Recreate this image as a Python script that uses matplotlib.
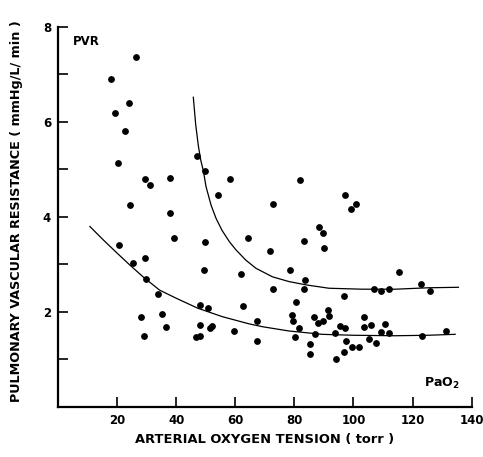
import matplotlib.pyplot as plt
from matplotlib.ticker import MultipleLocator

# scatter points: arterial oxygen tension (torr) vs PVR
pao2 = [26.4, 18.0, 24.1, 19.4, 22.7, 20.4, 29.3, 31.1, 37.9, 24.5,
        37.9, 47.0, 39.4, 20.8, 25.3, 29.6, 29.7, 33.7, 28.0, 35.2,
        36.7, 29.0, 46.7, 48.2, 49.8, 49.4, 47.9, 50.9, 48.2, 51.3,
        52.1, 59.4, 62.0, 62.7, 64.3, 49.7, 58.3, 81.9, 54.3, 72.9,
        88.3, 89.7, 89.9, 83.2, 71.8, 97.2, 100.8, 99.3, 78.5, 83.6,
        83.1, 72.8, 80.6, 79.2, 79.5, 86.6, 67.4, 88.1, 89.7, 91.3,
        91.6, 81.7, 80.2, 87.1, 67.2, 85.4, 85.4, 96.8, 107.1, 109.4,
        111.9, 115.3, 122.7, 125.9, 95.4, 97.1, 93.9, 103.5, 103.4, 105.9,
        110.5, 109.4, 112.0, 97.6, 99.5, 101.9, 105.2, 107.5, 123.2, 131.4,
        96.7, 94.0]
pvr = [7.37, 6.90, 6.39, 6.18, 5.80, 5.13, 4.79, 4.67, 4.83, 4.25,
       4.09, 5.29, 3.55, 3.40, 3.04, 3.14, 2.69, 2.37, 1.90, 1.95,
       1.68, 1.50, 1.47, 1.49, 3.47, 2.88, 2.15, 2.08, 1.73, 1.66,
       1.70, 1.59, 2.81, 2.12, 3.56, 4.97, 4.81, 4.78, 4.46, 4.27,
       3.78, 3.66, 3.35, 3.49, 3.29, 4.46, 4.27, 4.17, 2.88, 2.67,
       2.48, 2.48, 2.20, 1.93, 1.80, 1.90, 1.81, 1.76, 1.82, 2.04,
       1.92, 1.66, 1.48, 1.53, 1.38, 1.32, 1.11, 2.33, 2.48, 2.44,
       2.48, 2.84, 2.58, 2.45, 1.71, 1.66, 1.56, 1.89, 1.68, 1.72,
       1.75, 1.57, 1.56, 1.39, 1.27, 1.27, 1.43, 1.35, 1.50, 1.60,
       1.15, 1.01]

# hand-drawn curves
lower_x = [10.8, 15.3, 20.0, 24.3, 28.8, 34.4, 40.0, 47.3, 55.7, 64.7, 69.2, 78.2, 89.4, 100.0, 114.0, 125.0, 134.4]
lower_y = [3.80, 3.52, 3.24, 2.99, 2.74, 2.46, 2.29, 2.08, 1.90, 1.75, 1.69, 1.60, 1.53, 1.51, 1.50, 1.51, 1.53]
upper_x = [45.8, 46.6, 47.5, 48.3, 49.2, 50.1, 51.8, 53.5, 55.5, 58.0, 60.2, 63.6, 67.0, 72.6, 78.2, 84.0, 91.7, 102.9, 114.2, 125.4, 135.5]
upper_y = [6.52, 5.95, 5.50, 5.20, 4.97, 4.64, 4.25, 3.97, 3.72, 3.48, 3.31, 3.09, 2.92, 2.74, 2.64, 2.57, 2.50, 2.48, 2.48, 2.51, 2.52]

fig = plt.figure(figsize=(4.83, 4.57), dpi=100)
ax = fig.add_axes([0.120, 0.1094, 0.8566, 0.8316])

ax.scatter(pao2, pvr, s=15, color='black', zorder=3)
ax.plot(lower_x, lower_y, color='black', linewidth=0.9)
ax.plot(upper_x, upper_y, color='black', linewidth=0.9)

ax.set_xlim(0, 140)
ax.set_ylim(0, 8)
ax.set_xticks([20, 40, 60, 80, 100, 120, 140])
ax.set_yticks([2, 4, 6, 8])
ax.yaxis.set_minor_locator(MultipleLocator(1))

for s in ['top', 'right']:
    ax.spines[s].set_visible(False)
for s in ['left', 'bottom']:
    ax.spines[s].set_linewidth(1.6)

ax.tick_params(axis='both', which='both', direction='in', width=1.2, length=7)
ax.tick_params(axis='both', which='major', labelsize=8.5, pad=5)
for lbl in ax.get_xticklabels() + ax.get_yticklabels():
    lbl.set_fontweight('bold')

ax.text(5, 7.62, 'PVR', fontsize=8.5, fontweight='bold')
ax.text(124, 0.42, 'PaO$_\\mathbf{2}$', fontsize=9, fontweight='bold')

ax.set_xlabel('ARTERIAL OXYGEN TENSION ( torr )', fontsize=9.4, fontweight='bold')
ax.set_ylabel('PULMONARY VASCULAR RESISTANCE ( mmHg/L/ min )', fontsize=9.2, fontweight='bold')
ax.xaxis.set_label_coords(0.5, -0.068)
ax.yaxis.set_label_coords(-0.084, 0.515)

plt.savefig('out.png', dpi=100)
